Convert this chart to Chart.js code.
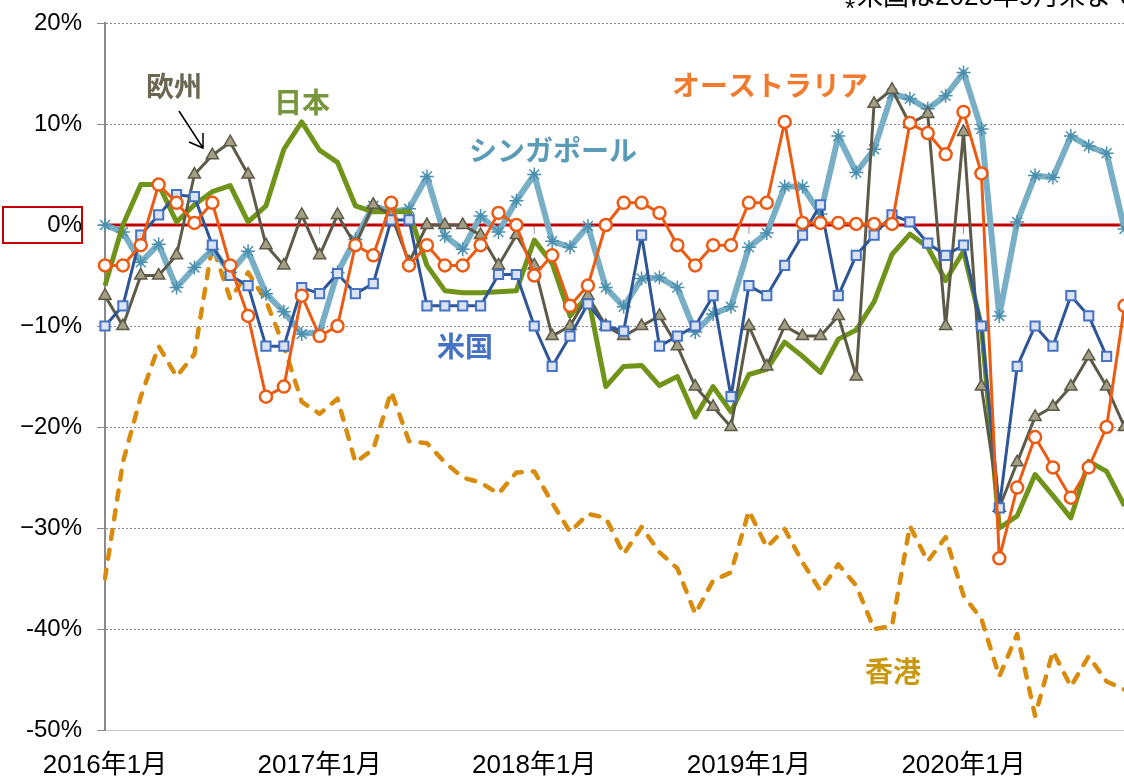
<!DOCTYPE html>
<html lang="ja">
<head>
<meta charset="utf-8">
<script src="https://cdn.jsdelivr.net/npm/chart.js@4.4.0/dist/chart.umd.min.js"></script>
<style>
  body{margin:0;background:#fff;overflow:hidden;}
  #wrap{width:1124px;height:779px;position:relative;overflow:hidden;}
</style>
</head>
<body>
<!-- 元の図は右端で切れているので、キャンバスを少し広くして右端をはみ出させる -->
<div id="wrap"><canvas id="chart" width="1133" height="779"></canvas></div>
<script>
// 月ラベル 2016年1月〜2020年10月
const months = [];
for (let y = 2016; y <= 2020; y++) {
  for (let m = 1; m <= 12; m++) {
    if (y === 2020 && m > 10) break;
    months.push(y + '年' + m + '月');
  }
}

const yTicks = [20, 10, 0, -10, -20, -30, -40, -50];
const yTickLabels = ['20%', '10%', '0%', '−10%', '−20%', '−30%', '-40%', '-50%'];

// 前年同月比（%）
const australia = [-4, -4, -2, 4, 2.2, 0.2, 2.2, -4, -9, -17, -16, -7, -11, -10, -2, -3, 2.2, -4, -2, -4,
  -4, -2, 1.2, 0, -5, -3, -8, -6, 0, 2.2, 2.2, 1.2, -2, -4, -2, -2, 2.2, 2.2, 10.2, 0.2,
  0.2, 0.2, 0.1, 0.1, 0.1, 10.1, 9.1, 7, 11.2, 5.1, -33, -26, -21, -24, -27, -24, -20, -8];
const usa = [-10, -8, -1, 1, 3, 2.8, -2, -5, -6, -12, -12, -6.2, -6.8, -4.8, -6.8, -5.8, 0.5, 0.5, -8, -8,
  -8, -8, -4.9, -4.9, -10, -14, -11, -7.8, -10, -10.5, -1, -12, -11, -10, -7, -17, -6, -7, -4, -1,
  2, -7, -3, -1, 1, 0.3, -1.8, -3, -2, -10, -28, -14, -10, -12, -7, -9, -13, null];
const europe = [-7, -10, -5, -5, -3, 5, 6.9, 8.2, 5, -2, -4, 1, -3, 1, -2, 2, 1, -3.7, 0, 0,
  0, -1, -4, -1, -4, -11, -10, -7, -10, -11, -10, -9, -12, -16, -18, -20, -10, -14, -10, -11,
  -11, -9, -15, 12, 13.4, 10, 11, -10, 9.2, -16, -28, -23.5, -19, -18, -16, -13, -16, -20];
const japan = [-6, 0, 4, 4, 0.3, 2, 3.3, 3.9, 0.3, 1.9, 7.5, 10.2, 7.4, 6.2, 1.9, 1.3, 1.3, 1.3, -4, -6.5,
  -6.7, -6.7, -6.6, -6.5, -1.5, -3.8, -9, -7, -16, -14, -13.9, -15.9, -15, -19, -16, -18.5, -14.8, -14.3, -11.6, -13,
  -14.6, -11.3, -10.4, -7.6, -2.9, -0.9, -2.2, -5.5, -2.6, -10, -30, -28.8, -24.7, -26.8, -29, -23.4, -24.4, -27.8];
const singapore = [0, -0.7, -3.7, -1.9, -6.2, -4.2, -2.4, -4.7, -2.6, -6.8, -8.6, -10.8, -10.6, -4.7, -1.4, 1.9, 1.3, 1.6, 4.8, -1.1,
  -2.4, 0.9, -0.7, 2.4, 5, -1.6, -2.2, -0.1, -6.2, -8.1, -5.3, -5.2, -6.2, -10.6, -8.8, -8.1, -2.2, -0.8, 3.8, 3.8,
  1.1, 8.8, 5.2, 7.5, 13, 12.5, 11.5, 12.8, 15.1, 9.5, -9, 0.3, 4.9, 4.7, 8.8, 7.8, 7.1, -0.4];
const hongkong = [-35, -23.5, -17, -12, -15, -12.8, -2, -7.3, -4.7, -7.5, -12, -17.5, -18.7, -17.2, -23.5, -22.2, -16.5, -21.4, -21.6, -23.5,
  -25, -25.5, -26.6, -24.5, -24.4, -27.5, -30.4, -28.6, -29, -32.6, -29.9, -32.4, -34, -38.5, -35.2, -34.4, -28.3, -31.9, -30.1, -33.4,
  -36.2, -33.6, -35.7, -40, -39.7, -29.8, -33.3, -30.9, -36.7, -39, -44.7, -40.5, -48.6, -42.2, -45.7, -42.7, -45.2, -46];

// 系列名ラベル
const seriesLabels = [
  {text: '欧州', x: 174, y: 86, color: '#6b6753'},
  {text: '日本', x: 302, y: 102, color: '#77953a'},
  {text: 'シンガポール', x: 553, y: 150, color: '#5a9bb8'},
  {text: 'オーストラリア', x: 770, y: 85, color: '#f07a2e'},
  {text: '米国', x: 465, y: 346, color: '#4472c4'},
  {text: '香港', x: 893, y: 671, color: '#c9980c'}
];

const cjk = "'Noto Sans CJK JP', 'Noto Sans', sans-serif";
const latin = "'Liberation Sans', Arial, 'Noto Sans CJK JP', sans-serif";

// 0%ライン・目盛り
const zeroLine = {
  id: 'zeroLine',
  beforeDatasetsDraw(chart) {
    const ctx = chart.ctx, a = chart.chartArea;
    const y0 = chart.scales.y.getPixelForValue(0);
    ctx.save();
    ctx.strokeStyle = '#999';
    ctx.lineWidth = 1;
    months.forEach((m, i) => {
      if (i > 0 && m.endsWith('年1月')) {
        const x = chart.scales.x.getPixelForValue(i);
        ctx.beginPath();
        ctx.moveTo(x, y0);
        ctx.lineTo(x, y0 + 9);
        ctx.stroke();
      }
    });
    ctx.strokeStyle = '#c00000';
    ctx.lineWidth = 3;
    ctx.beginPath();
    ctx.moveTo(a.left, y0);
    ctx.lineTo(a.right, y0);
    ctx.stroke();
    ctx.restore();
  }
};

// 注記
const notes = {
  id: 'notes',
  afterDraw(chart) {
    const ctx = chart.ctx;
    const y0 = chart.scales.y.getPixelForValue(0);
    ctx.save();
    // 0%の赤枠
    ctx.strokeStyle = '#c00000';
    ctx.lineWidth = 2;
    ctx.strokeRect(3, y0 - 18, 79, 36);

    ctx.font = 'bold 28px ' + cjk;
    ctx.textAlign = 'center';
    ctx.textBaseline = 'middle';
    seriesLabels.forEach(l => {
      ctx.fillStyle = l.color;
      ctx.fillText(l.text, l.x, l.y);
    });

    // 欧州の矢印
    ctx.strokeStyle = '#000';
    ctx.lineWidth = 1.5;
    ctx.beginPath();
    ctx.moveTo(179, 111);
    ctx.lineTo(203, 148);
    ctx.moveTo(189, 142);
    ctx.lineTo(203, 148);
    ctx.lineTo(203, 133);
    ctx.stroke();

    // 右上の注記（上端で切れている）
    ctx.fillStyle = '#000';
    ctx.textAlign = 'left';
    ctx.font = '26px ' + latin;
    ctx.textBaseline = 'alphabetic';
    ctx.fillText('*', 845, 17);
    ctx.textBaseline = 'middle';
    ctx.fillText('米国は2020年9月末まで', 857, -2);
    ctx.restore();
  }
};

function line(label, data, color, width, extra) {
  return Object.assign({
    label: label,
    data: data,
    borderColor: color,
    backgroundColor: color,
    borderWidth: width,
    pointRadius: 0,
    tension: 0,
    borderJoinStyle: 'round',
    spanGaps: false
  }, extra || {});
}

new Chart(document.getElementById('chart'), {
  type: 'line',
  data: {
    labels: months,
    datasets: [
      line('オーストラリア', australia, '#eb5b13', 3, {
        pointStyle: 'circle', pointRadius: 6, pointBorderWidth: 2.5,
        pointBackgroundColor: '#fff', pointBorderColor: '#eb5b13'
      }),
      line('米国', usa, '#2e5596', 3, {
        pointStyle: 'rect', pointRadius: 6.5, pointBorderWidth: 2,
        pointBackgroundColor: '#dbe3f3', pointBorderColor: '#4472c4'
      }),
      line('欧州', europe, '#5e5a48', 3, {
        pointStyle: 'triangle', pointRadius: 7, pointBorderWidth: 1.5,
        pointBackgroundColor: '#a39f84', pointBorderColor: '#5e5a48'
      }),
      line('日本', japan, '#6f9419', 5),
      line('シンガポール', singapore, '#79afc6', 6, {
        pointStyle: 'star', pointRadius: 7, pointBorderWidth: 1.5,
        pointBorderColor: '#4b8fae', pointBackgroundColor: '#4b8fae'
      }),
      line('香港', hongkong, '#d98b0d', 4.5, {
        borderDash: [9, 11], borderCapStyle: 'round'
      })
    ]
  },
  options: {
    responsive: false,
    animation: false,
    layout: {padding: {top: 23, right: 0, left: 0, bottom: 0}},
    plugins: {
      legend: {display: false},
      tooltip: {enabled: false}
    },
    scales: {
      x: {
        offset: false,
        grid: {display: false, drawTicks: false},
        border: {display: true, color: '#c8c8c8', width: 1},
        ticks: {
          autoSkip: false,
          maxRotation: 0,
          padding: 20,
          color: '#000',
          font: {size: 26, family: latin},
          callback: function (v, i) {
            const m = months[i];
            return m.endsWith('年1月') ? m : '';
          }
        },
        afterFit: s => {
          s.height = 49;
          s.paddingLeft = 0;
          s.paddingRight = 0;
        }
      },
      y: {
        min: -50,
        max: 20,
        grid: {
          color: '#8a8a8a',
          lineWidth: 1,
          tickLength: 8,
          tickBorderDash: [],
          tickColor: '#8a8a8a'
        },
        border: {display: true, color: '#8a8a8a', width: 2, dash: [2, 2]},
        ticks: {
          stepSize: 10,
          padding: 15,
          color: '#000',
          font: {size: 24, family: latin},
          callback: v => {
            const i = yTicks.indexOf(v);
            return i >= 0 ? yTickLabels[i] : '';
          }
        },
        afterFit: s => {
          s.width = 105;
          s.paddingTop = 0;
          s.paddingBottom = 0;
        }
      }
    }
  },
  plugins: [zeroLine, notes]
});
</script>
</body>
</html>
